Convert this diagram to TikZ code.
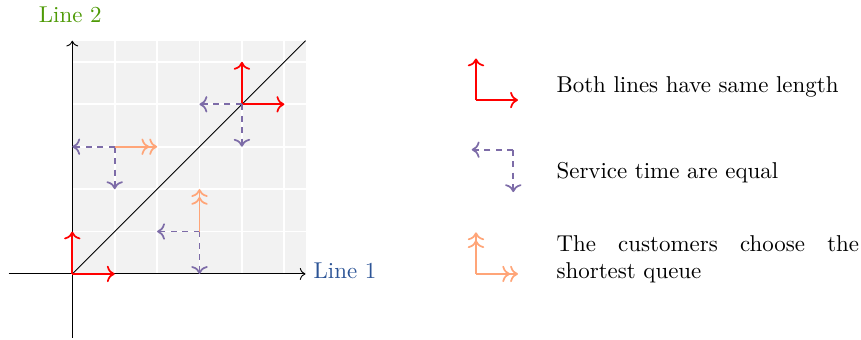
\documentclass[tikz,border=0pt]{standalone}
\usetikzlibrary{arrows.meta}
\definecolor{purp}{RGB}{125,108,168}
\definecolor{salm}{RGB}{255,165,120}
\definecolor{lgreen}{RGB}{78,154,6}
\definecolor{lblue}{RGB}{44,84,150}
\definecolor{bggray}{RGB}{242,242,242}
\tikzset{
  tipa/.tip={To[scale=1.05]},
  samelen/.style={red, line width=0.75pt, -tipa},
  equalsvc/.style={purp, line width=0.75pt, dash pattern=on 2.6pt off 2.4pt, -tipa},
  shortq/.style={salm, line width=0.75pt, -{tipa[]tipa[]}},
  axisline/.style={black, thin, -To},
  legendtext/.style={anchor=west, inner sep=0pt, text width=132pt, align=justify},
}
\begin{document}
\begin{tikzpicture}[x=18.5pt,y=18.5pt]
\useasboundingbox (-1.705,-1.557) rectangle (18.6,6.46);
% background and grid
\fill[bggray] (0,0) rectangle (5.5,5.5);
\draw[white, line width=0.8pt, step=18.5pt] (0,0) grid (5.5,5.5);
% axes
\coordinate (xs) at (-1.5,0);
\coordinate (xe) at (5.5,0);
\coordinate (ys) at (0,-1.5);
\coordinate (ye) at (0,5.5);
\coordinate (O) at (0,0);
\coordinate (D) at (5.5,5.5);
\draw[axisline] (xs) -- (xe);
\draw[axisline] (ys) -- (ye);
\draw[black, thin] (O) -- (D);
\node[lblue, anchor=west, inner sep=3.33pt] (l1) at (5.5,0.08) {Line 1};
\node[lgreen] (l2) at (-0.05,6.10) {Line 2};
% points
\coordinate (p00) at (0,0);
\coordinate (p10) at (1,0);
\coordinate (p01) at (0,1);
\coordinate (p44) at (4,4);
\coordinate (p45) at (4,5);
\coordinate (p54) at (5,4);
\coordinate (p34) at (3,4);
\coordinate (p43) at (4,3);
\coordinate (p13) at (1,3);
\coordinate (p03) at (0,3);
\coordinate (p12) at (1,2);
\coordinate (p23) at (2,3);
\coordinate (p31) at (3,1);
\coordinate (p21) at (2,1);
\coordinate (p30) at (3,0);
\coordinate (p32) at (3,2);
% arrows
\draw[samelen] (p00) -- (p10);
\draw[samelen] (p00) -- (p01);
\draw[samelen] (p44) -- (p45);
\draw[samelen] (p44) -- (p54);
\draw[equalsvc] (p44) -- (p34);
\draw[equalsvc] (p44) -- (p43);
\draw[equalsvc] (p13) -- (p03);
\draw[equalsvc] (p13) -- (p12);
\draw[equalsvc] (p31) -- (p21);
\draw[equalsvc] (p31) -- (p30);
\draw[shortq] (p13) -- (p23);
\draw[shortq] (p31) -- (p32);
% legend
\coordinate (a1) at (9.52,4.10);
\coordinate (a1u) at (9.52,5.08);
\coordinate (a1r) at (10.51,4.10);
\draw[samelen] (a1) -- (a1u);
\draw[samelen] (a1) -- (a1r);
\coordinate (a2) at (10.40,2.93);
\coordinate (a2l) at (9.42,2.93);
\coordinate (a2d) at (10.40,1.93);
\draw[equalsvc] (a2) -- (a2l);
\draw[equalsvc] (a2) -- (a2d);
\coordinate (a3) at (9.52,0);
\coordinate (a3u) at (9.52,0.98);
\coordinate (a3r) at (10.51,0);
\draw[shortq] (a3) -- (a3u);
\draw[shortq] (a3) -- (a3r);
\node[legendtext] (t1) at (11.41,4.41) {Both lines have same length};
\node[legendtext] (t2) at (11.41,2.39) {Service time are equal};
\node[legendtext] (t3) at (11.41,0.34) {The customers choose the shortest queue};
\end{tikzpicture}
\end{document}
